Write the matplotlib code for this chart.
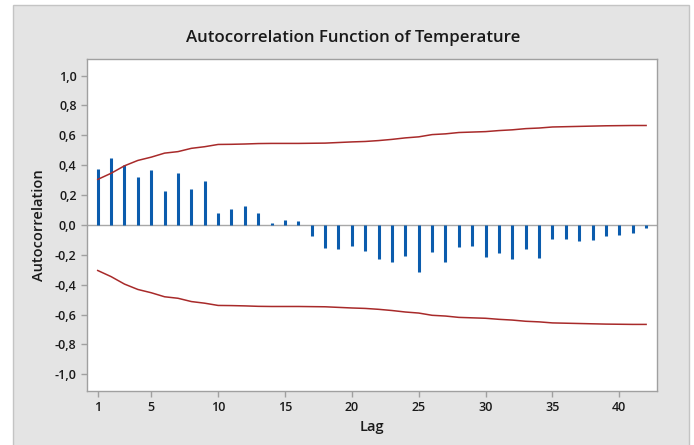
import matplotlib.pyplot as plt
from matplotlib.patches import Rectangle
from matplotlib.ticker import FuncFormatter

plt.rcParams['font.family'] = ['Open Sans', 'DejaVu Sans']

lags = list(range(1, 43))
acf = [0.377, 0.447, 0.404, 0.321, 0.366, 0.229, 0.348, 0.242, 0.296, 0.081,
       0.110, 0.130, 0.081, 0.011, 0.031, 0.025, -0.076, -0.157, -0.164, -0.139,
       -0.177, -0.231, -0.245, -0.207, -0.312, -0.184, -0.245, -0.146, -0.139, -0.213,
       -0.189, -0.231, -0.164, -0.224, -0.097, -0.097, -0.108, -0.103, -0.076, -0.070,
       -0.056, -0.022]
# верхняя граница доверительного интервала (нижняя симметрична)
upper = [0.305, 0.346, 0.396, 0.432, 0.454, 0.481, 0.491, 0.513, 0.524, 0.539,
         0.540, 0.542, 0.545, 0.546, 0.546, 0.546, 0.547, 0.548, 0.552, 0.556,
         0.559, 0.565, 0.573, 0.583, 0.590, 0.605, 0.610, 0.619, 0.622, 0.625,
         0.632, 0.637, 0.645, 0.649, 0.656, 0.658, 0.660, 0.662, 0.664, 0.665,
         0.666, 0.666]
lower = [-u for u in upper]
x_ticks = [1, 5, 10, 15, 20, 25, 30, 35, 40]
y_ticks = [-1.0, -0.8, -0.6, -0.4, -0.2, 0.0, 0.2, 0.4, 0.6, 0.8, 1.0]

fig = plt.figure(figsize=(6.94, 4.45), dpi=100)
fig.patches.append(Rectangle((13 / 694, -0.01), 676 / 694, 1.0 - 5 / 445 + 0.01,
                             transform=fig.transFigure, facecolor='#e4e4e4',
                             edgecolor='#c4c4c4', linewidth=1.0, zorder=-5))

ax = fig.add_axes([0.1254, 0.122, 0.821, 0.745])
ax.set_zorder(2)
ax.set_facecolor('white')

ax.axhline(0, color='#a8a8a8', linewidth=1.0, zorder=1)
ax.vlines(lags, 0, acf, color='#0b5cad', linewidth=2.2, zorder=2)
ax.plot(lags, upper, color='#a82a2a', linewidth=1.1, zorder=3)
ax.plot(lags, lower, color='#a82a2a', linewidth=1.1, zorder=3)

ax.set_xlim(0.2, 42.8)
ax.set_ylim(-1.11, 1.11)
ax.set_xticks(x_ticks)
ax.set_yticks(y_ticks)
ax.yaxis.set_major_formatter(FuncFormatter(lambda v, p: f"{v:.1f}".replace('.', ',').replace('-0,0', '0,0')))

for s in ax.spines.values():
    s.set_color('#a0a0a0')
    s.set_linewidth(1.0)
ax.tick_params(axis='both', colors='#a0a0a0', labelcolor='#1a1a1a',
               length=4, width=1.0, labelsize=9)
for lbl in ax.get_xticklabels() + ax.get_yticklabels():
    lbl.set_fontweight('semibold')

fig.text(353 / 694, 1 - 38 / 445, "Autocorrelation Function of Temperature",
         ha='center', va='center', fontsize=12.2, fontweight='semibold', color='#1a1a1a')
ax.set_xlabel("Lag", fontsize=10.5, fontweight='semibold', color='#1a1a1a', labelpad=4)
ax.set_ylabel("Autocorrelation", fontsize=10.5, fontweight='semibold', color='#1a1a1a', labelpad=6)

fig.savefig("out.png", dpi=100, facecolor='white')
